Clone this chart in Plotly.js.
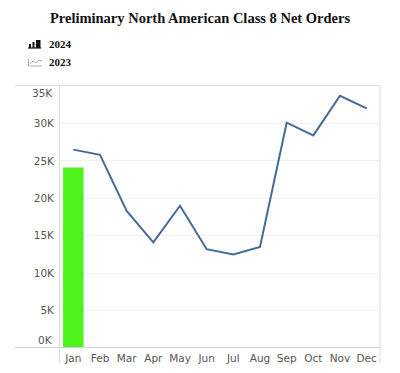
<!DOCTYPE html>
<html>
<head>
<meta charset="utf-8">
<script src="https://cdn.plot.ly/plotly-3.0.1.min.js"></script>
<style>html,body{margin:0;padding:0;background:#fff;}#chart{width:400px;height:373px;}</style>
</head>
<body>
<div id="chart"></div>
<script>
// ---- data ----
var months = ["Jan","Feb","Mar","Apr","May","Jun","Jul","Aug","Sep","Oct","Nov","Dec"];
var orders2024Months = ["Jan"];
var orders2024 = [24100];
var orders2023 = [26500, 25800, 18300, 14100, 19000, 13200, 12500, 13500, 30100, 28400, 33700, 32000];
var yTickVals = [5000, 10000, 15000, 20000, 25000, 30000];
var yTickText = ["5K", "10K", "15K", "20K", "25K", "30K"];
var seriesNames = ["2024", "2023"];

// ---- layout geometry (pixels) ----
var W = 400, H = 373;
var M = {l: 60, r: 20, t: 86, b: 25};
var PW = W - M.l - M.r, PH = H - M.t - M.b;
function px(x) { return (x - M.l) / PW; }
function py(y) { return (H - M.b - y) / PH; }

var tickFont = {family: "DejaVu Sans", size: 10.5, color: "#555"};
var frameColor = "#dcdcdc";

var shapes = [
  // frame lines (Tableau-like)
  {type: "line", xref: "paper", yref: "paper", x0: px(15), x1: px(380), y0: py(85.5), y1: py(85.5), line: {color: frameColor, width: 1}},
  {type: "line", xref: "paper", yref: "paper", x0: px(15), x1: px(380), y0: py(347.5), y1: py(347.5), line: {color: "#d0d0d0", width: 1}},
  {type: "line", xref: "paper", yref: "paper", x0: px(59.5), x1: px(59.5), y0: py(85), y1: py(363), line: {color: frameColor, width: 1}},
  {type: "line", xref: "paper", yref: "paper", x0: px(380), x1: px(380), y0: py(85), y1: py(363), line: {color: frameColor, width: 1}},
  // bar legend icon
  {type: "line", xref: "paper", yref: "paper", x0: px(28), x1: px(41), y0: py(48), y1: py(48), line: {color: "#111", width: 1.2}},
  {type: "rect", xref: "paper", yref: "paper", x0: px(29), x1: px(31), y0: py(48), y1: py(44), fillcolor: "#111", line: {width: 0}},
  {type: "rect", xref: "paper", yref: "paper", x0: px(32.5), x1: px(34.5), y0: py(48), y1: py(42), fillcolor: "#111", line: {width: 0}},
  {type: "rect", xref: "paper", yref: "paper", x0: px(36), x1: px(40.5), y0: py(48), y1: py(40), fillcolor: "#111", line: {width: 0}},
  // line legend icon
  {type: "line", xref: "paper", yref: "paper", x0: px(28.5), x1: px(28.5), y0: py(59), y1: py(66), line: {color: "#999", width: 0.8}},
  {type: "line", xref: "paper", yref: "paper", x0: px(28.5), x1: px(42), y0: py(66), y1: py(66), line: {color: "#999", width: 0.8}},
  {type: "line", xref: "paper", yref: "paper", x0: px(30), x1: px(33), y0: py(64), y1: py(61), line: {color: "#999", width: 0.8}},
  {type: "line", xref: "paper", yref: "paper", x0: px(33), x1: px(36), y0: py(61), y1: py(63), line: {color: "#999", width: 0.8}},
  {type: "line", xref: "paper", yref: "paper", x0: px(36), x1: px(39), y0: py(63), y1: py(60), line: {color: "#999", width: 0.8}},
  {type: "line", xref: "paper", yref: "paper", x0: px(39), x1: px(42), y0: py(60), y1: py(61), line: {color: "#999", width: 0.8}}
];

var legendFont = {family: "Liberation Serif", size: 11, color: "#111"};
var annotations = [
  {xref: "paper", yref: "paper", x: px(47), y: py(44), xanchor: "left", yanchor: "middle", text: "<b>" + seriesNames[0] + "</b>", showarrow: false, font: legendFont},
  {xref: "paper", yref: "paper", x: px(47), y: py(62), xanchor: "left", yanchor: "middle", text: "<b>" + seriesNames[1] + "</b>", showarrow: false, font: legendFont},
  // edge tick labels nudged inside the plot (as in the reference)
  {xref: "paper", yref: "paper", x: px(55), y: py(92.7), xanchor: "right", yanchor: "middle", text: "35K", showarrow: false, font: tickFont},
  {xref: "paper", yref: "paper", x: px(55), y: py(340), xanchor: "right", yanchor: "middle", text: "0K", showarrow: false, font: tickFont}
];

var data = [
  {type: "bar", name: seriesNames[0], x: orders2024Months, y: orders2024, marker: {color: "#4cf21a"}, width: 0.77},
  {type: "scatter", mode: "lines", name: seriesNames[1], x: months, y: orders2023, line: {color: "#456c98", width: 2}}
];

var layout = {
  width: W, height: H,
  margin: M,
  paper_bgcolor: "#fff", plot_bgcolor: "#fff",
  showlegend: false,
  title: {
    text: "<b>Preliminary North American Class 8 Net Orders</b>",
    font: {family: "Liberation Serif", size: 14.5, color: "#111"},
    x: 0.5, xanchor: "center", xref: "container",
    y: 1 - 18 / H, yanchor: "middle", yref: "container"
  },
  xaxis: {
    type: "category", categoryorder: "array", categoryarray: months,
    range: [-0.5, 11.5],
    showline: false, showgrid: false, zeroline: false, ticks: "",
    tickfont: tickFont, ticklabelstandoff: 2
  },
  yaxis: {
    range: [0, 35000],
    tickvals: yTickVals, ticktext: yTickText,
    showgrid: true, gridcolor: "#f1f1f1", gridwidth: 1,
    zeroline: false, showline: false, ticks: "",
    tickfont: tickFont, ticklabelstandoff: 5
  },
  shapes: shapes,
  annotations: annotations
};

Plotly.newPlot("chart", data, layout, {displayModeBar: false, staticPlot: true});
</script>
</body>
</html>
